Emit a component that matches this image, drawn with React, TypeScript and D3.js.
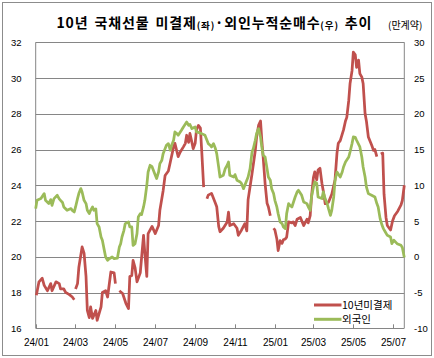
import React from "react";
import * as d3 from "d3";

const redDates = [
  "2024-01-02","2024-01-06","2024-01-11","2024-01-14","2024-01-19","2024-01-24","2024-01-26","2024-02-01","2024-02-06","2024-02-08",
  "2024-02-13","2024-02-16","2024-02-21","2024-02-26","2024-02-29","2024-03-01","2024-03-02","2024-03-05","2024-03-07","2024-03-12",
  "2024-03-15","2024-03-18","2024-03-20","2024-03-23","2024-03-25","2024-03-28","2024-04-02","2024-04-04","2024-04-10","2024-04-12",
  "2024-04-17","2024-04-20","2024-04-25","2024-04-30","2024-05-02","2024-05-04","2024-05-08","2024-05-13","2024-05-18","2024-05-22",
  "2024-05-24","2024-05-27","2024-05-29","2024-06-01","2024-06-04","2024-06-09","2024-06-14","2024-06-16","2024-06-19","2024-06-21",
  "2024-06-27","2024-07-02","2024-07-07","2024-07-09","2024-07-14","2024-07-17","2024-07-22","2024-07-25","2024-07-30","2024-08-01",
  "2024-08-06","2024-08-09","2024-08-14","2024-08-17","2024-08-19","2024-08-22","2024-08-24","2024-08-27","2024-08-29","2024-09-01",
  "2024-09-03","2024-09-06","2024-09-09","2024-09-11","2024-09-14","2024-09-16","2024-09-19","2024-09-21","2024-09-26","2024-10-02",
  "2024-10-04","2024-10-07","2024-10-09","2024-10-14","2024-10-20","2024-10-22","2024-10-24","2024-10-30","2024-11-04","2024-11-06",
  "2024-11-11","2024-11-16","2024-11-19","2024-11-21","2024-11-27","2024-12-02","2024-12-04","2024-12-07","2024-12-10","2024-12-12",
  "2024-12-14","2024-12-17","2024-12-20","2024-12-22","2024-12-25","2024-12-28","2024-12-30","2025-01-01","2025-01-04","2025-01-06",
  "2025-01-09","2025-01-12","2025-01-14","2025-01-17","2025-01-19","2025-01-22","2025-01-27","2025-01-29","2025-02-01","2025-02-04",
  "2025-02-09","2025-02-14","2025-02-19","2025-02-21","2025-02-24","2025-02-26","2025-03-01","2025-03-03","2025-03-06","2025-03-08",
  "2025-03-11","2025-03-14","2025-03-16","2025-03-19","2025-03-24","2025-03-29","2025-04-03","2025-04-06","2025-04-08","2025-04-11",
  "2025-04-16","2025-04-19","2025-04-21","2025-04-24","2025-04-26","2025-04-29","2025-05-01","2025-05-04","2025-05-06","2025-05-09",
  "2025-05-11","2025-05-14","2025-05-16","2025-05-19","2025-05-21","2025-05-24","2025-05-29","2025-06-01","2025-06-03","2025-06-06",
  "2025-06-08","2025-06-12","2025-06-15","2025-06-17","2025-06-20","2025-06-22","2025-06-25","2025-06-27","2025-06-30","2025-07-03",
  "2025-07-08","2025-07-13","2025-07-15","2025-07-18"
];
const redValues: (number | null)[] = [
  17.85,18.6,18.8,18.4,18.1,18.5,18.1,18.6,18.5,18.2,
  18.2,18.0,17.9,17.75,17.6,null,18.2,18.5,19.4,20.55,
  20.2,18.9,17.0,16.6,17.2,16.55,17.0,16.45,17.2,18.0,
  18.1,17.75,19.15,19.1,18.5,null,18.1,17.95,17.4,17.1,
  18.9,18.95,19.8,19.4,18.6,19.1,21.2,20.2,18.9,21.3,
  21.7,21.3,21.75,22.6,23.7,24.55,24.8,25.3,26.15,26.35,
  25.6,25.85,26.15,26.35,26.8,26.4,26.9,26.4,26.05,26.35,
  27.1,27.35,27.2,25.95,23.9,null,23.25,23.45,23.55,23.0,
  22.8,21.7,21.4,21.6,21.95,22.5,21.75,21.85,21.6,21.2,
  21.5,21.85,21.45,23.2,24.65,25.95,26.7,27.35,27.6,26.5,
  25.6,24.1,23.0,22.8,22.3,null,21.6,21.5,21.0,20.35,
  20.9,20.75,20.95,21.0,21.1,21.95,21.9,21.95,21.75,22.1,
  22.2,21.75,22.1,21.9,22.3,23.35,24.45,24.75,24.3,24.85,
  24.95,24.1,23.7,22.97,23.05,23.5,24.3,25.8,26.35,26.5,
  27.1,27.6,27.8,28.75,29.7,30.4,31.45,31.3,30.6,31.0,
  30.25,30.05,29.7,28.0,27.6,26.7,26.25,25.95,26.0,25.6,
  null,25.75,25.8,23.5,22.2,21.75,21.6,21.5,22.0,22.3,
  22.55,22.9,23.15,24.0
];

const greenDates = [
  "2024-01-01","2024-01-03","2024-01-09","2024-01-14","2024-01-16","2024-01-21","2024-01-24","2024-01-26","2024-01-29","2024-02-03",
  "2024-02-06","2024-02-08","2024-02-11","2024-02-13","2024-02-18","2024-02-24","2024-02-26","2024-02-29","2024-03-02","2024-03-05",
  "2024-03-07","2024-03-10","2024-03-12","2024-03-15","2024-03-18","2024-03-20","2024-03-23","2024-03-25","2024-03-28","2024-03-30",
  "2024-04-02","2024-04-04","2024-04-07","2024-04-10","2024-04-12","2024-04-15","2024-04-17","2024-04-20","2024-04-22","2024-04-27",
  "2024-04-30","2024-05-05","2024-05-08","2024-05-10","2024-05-12","2024-05-15","2024-05-17","2024-05-22","2024-05-24","2024-05-27",
  "2024-05-29","2024-06-01","2024-06-04","2024-06-06","2024-06-09","2024-06-11","2024-06-14","2024-06-16","2024-06-19","2024-06-21",
  "2024-06-24","2024-06-27","2024-07-02","2024-07-04","2024-07-07","2024-07-09","2024-07-12","2024-07-14","2024-07-19","2024-07-22",
  "2024-07-25","2024-07-27","2024-07-30","2024-08-01","2024-08-04","2024-08-06","2024-08-11","2024-08-14","2024-08-19","2024-08-22",
  "2024-08-24","2024-08-27","2024-09-01","2024-09-03","2024-09-06","2024-09-11","2024-09-16","2024-09-21","2024-09-24","2024-09-26",
  "2024-09-29","2024-10-02","2024-10-04","2024-10-07","2024-10-09","2024-10-14","2024-10-17","2024-10-20","2024-10-22","2024-10-24",
  "2024-10-30","2024-11-01","2024-11-04","2024-11-09","2024-11-11","2024-11-14","2024-11-16","2024-11-21","2024-11-24","2024-11-27",
  "2024-11-29","2024-12-02","2024-12-04","2024-12-07","2024-12-10","2024-12-12","2024-12-14","2024-12-17","2024-12-20","2024-12-22",
  "2024-12-25","2024-12-27","2024-12-30","2025-01-01","2025-01-04","2025-01-06","2025-01-09","2025-01-12","2025-01-14","2025-01-17",
  "2025-01-19","2025-01-22","2025-01-24","2025-01-27","2025-02-01","2025-02-04","2025-02-06","2025-02-11","2025-02-14","2025-02-19",
  "2025-02-21","2025-02-24","2025-02-26","2025-03-01","2025-03-03","2025-03-06","2025-03-08","2025-03-14","2025-03-16","2025-03-19",
  "2025-03-22","2025-03-24","2025-03-27","2025-03-29","2025-04-01","2025-04-03","2025-04-06","2025-04-11","2025-04-14","2025-04-16",
  "2025-04-19","2025-04-24","2025-04-26","2025-04-29","2025-05-01","2025-05-04","2025-05-06","2025-05-11","2025-05-14","2025-05-16",
  "2025-05-19","2025-05-21","2025-05-24","2025-05-29","2025-06-03","2025-06-06","2025-06-08","2025-06-11","2025-06-14","2025-06-16",
  "2025-06-19","2025-06-22","2025-06-27","2025-06-29","2025-07-02","2025-07-07","2025-07-13","2025-07-15","2025-07-18"
];
const greenValues = [
  6.74,7.9,8.14,8.84,7.9,7.44,8.0,7.2,8.14,8.6,
  8.1,7.9,7.6,6.97,6.5,6.74,6.5,6.27,6.97,8.14,
  8.84,9.54,9.07,7.9,7.44,6.5,6.04,6.5,6.97,6.5,
  6.7,4.64,4.17,2.77,2.31,0.9,-0.03,-0.49,-0.3,-0.03,
  -0.26,-0.2,1.37,1.84,2.77,3.7,4.64,4.87,4.17,4.17,
  1.6,1.84,3.24,5.57,6.04,5.9,6.97,7.9,10.0,11.86,
  12.8,12.6,11.4,10.94,11.86,13.03,13.5,14.43,15.6,15.83,
  14.9,15.6,16.3,17.46,17.23,17.0,17.7,18.16,18.85,18.4,
  18.5,17.93,18.16,17.46,17.4,17.23,17.0,15.83,15.6,15.36,
  15.83,15.13,14.43,12.5,11.16,11.4,12.33,12.8,13.26,11.4,
  11.16,11.5,10.7,10.46,10.23,9.53,10.0,11.16,12.33,14.66,
  15.13,16.3,17.23,17.93,16.76,15.36,14.2,13.96,12.33,11.16,
  10.7,9.53,8.84,7.9,6.97,6.04,4.87,4.64,4.17,3.94,
  6.04,7.44,7.2,6.97,8.37,9.07,9.3,8.6,7.67,7.44,
  7.0,6.5,8.37,9.77,10.46,10.3,8.37,8.14,9.07,8.1,
  7.44,6.74,5.8,6.5,8.37,10.7,11.86,11.16,11.86,12.56,
  13.26,13.96,14.66,15.83,16.76,16.7,16.3,15.36,13.96,12.56,
  11.16,9.77,8.84,8.6,8.37,7.44,6.97,5.34,4.4,3.94,
  3.47,3.0,2.77,1.84,2.31,1.84,1.6,1.3,-0.1
];

const leftTicks = [16, 18, 20, 22, 24, 26, 28, 30, 32];
const rightTicks = [-10, -5, 0, 5, 10, 15, 20, 25, 30];
const xTickMonths = ["2024-01","2024-03","2024-05","2024-07","2024-09","2024-11","2025-01","2025-03","2025-05","2025-07"];
const seriesNames = ["10년미결제", "외국인"];
const seriesColors = ["#C0504D", "#9BBB59"];
const dateStart = "2024-01-01";
const dateEnd = "2025-07-18";

export default function App() {
  const parse = d3.timeParse("%Y-%m-%d");
  const parseM = d3.timeParse("%Y-%m");
  const fmt = d3.timeFormat("%y/%m");

  const left = 35.7, right = 404.3, top = 42.3, bottom = 328.3;
  const x = d3.scaleTime().domain([parse(dateStart)!, parse(dateEnd)!]).range([left, right]);
  const yL = d3.scaleLinear().domain([16, 32]).range([bottom, top]);
  const yR = d3.scaleLinear().domain([-10, 30]).range([bottom, top]);

  const red = redDates.map((d, i) => ({ d: parse(d)!, v: redValues[i] }));
  const green = greenDates.map((d, i) => ({ d: parse(d)!, v: greenValues[i] as number | null }));

  const lineL = d3.line<{ d: Date; v: number | null }>()
    .defined((p) => p.v != null)
    .x((p) => x(p.d))
    .y((p) => yL(p.v as number));
  const lineR = d3.line<{ d: Date; v: number | null }>()
    .defined((p) => p.v != null)
    .x((p) => x(p.d))
    .y((p) => yR(p.v as number));

  const axisFont = "'Liberation Sans', Arial, sans-serif";
  const krFont = "'Noto Sans CJK KR', 'Noto Sans', sans-serif";

  return (
    <svg width={434} height={358} style={{ position: "absolute", left: 0, top: 0, background: "#fff" }}>
      <rect x={0} y={0} width={434} height={358} fill="#fff" />
      <rect x={2.5} y={2.5} width={429} height={353} fill="none" stroke="#8c8c8c" strokeWidth={1} />

      {/* title */}
      <text x={56.5} y={28} fontFamily={krFont} fill="#000" fontWeight="bold" fontSize={14} letterSpacing={0.85} wordSpacing={2}>
        <tspan>10년 국채선물 미결제</tspan>
        <tspan fontSize={9.5} dy={0.5}>(좌)</tspan>
        <tspan dy={-0.5}>·외인누적순매수</tspan>
        <tspan fontSize={9.5} dy={0.5}>(우)</tspan>
        <tspan dy={-0.5}> 추이</tspan>
      </text>
      <text x={388} y={28.5} fontSize={10} fontFamily={krFont} fill="#000">(만계약)</text>

      {/* gridlines */}
      {leftTicks.map((t) => (
        <line key={"g" + t} x1={left} x2={right} y1={Math.round(yL(t)) + 0.5} y2={Math.round(yL(t)) + 0.5} stroke="#868686" strokeWidth={1} />
      ))}
      <line x1={left} x2={left} y1={top} y2={bottom} stroke="#868686" />
      <line x1={right} x2={right} y1={top} y2={bottom} stroke="#868686" />

      {/* x ticks */}
      {xTickMonths.map((m) => {
        const xx = Math.round(x(parseM(m)!)) + 0.5;
        return (
          <g key={m}>
            <line x1={xx} x2={xx} y1={bottom - 4} y2={bottom} stroke="#868686" />
            <text x={xx} y={346} textAnchor="middle" fontSize={10} fontFamily={axisFont} fill="#000">{fmt(parseM(m)!)}</text>
          </g>
        );
      })}

      {/* left axis labels */}
      {leftTicks.map((t) => (
        <text key={"l" + t} x={21.5} y={yL(t) + 3.5} textAnchor="end" fontSize={9.5} fontFamily={axisFont} fill="#000">{t}</text>
      ))}
      {/* right axis labels */}
      {rightTicks.map((t) => (
        <text key={"r" + t} x={414} y={yR(t) + 3.5} textAnchor="start" fontSize={9.5} fontFamily={axisFont} fill="#000">{t}</text>
      ))}

      {/* series */}
      <path d={lineL(red) || ""} fill="none" stroke={seriesColors[0]} strokeWidth={2.75} strokeLinejoin="round" />
      <path d={lineR(green) || ""} fill="none" stroke={seriesColors[1]} strokeWidth={2.75} strokeLinejoin="round" />

      {/* legend */}
      {seriesNames.map((n, i) => (
        <g key={n}>
          <line x1={314} x2={341.5} y1={305 + i * 14.3} y2={305 + i * 14.3} stroke={seriesColors[i]} strokeWidth={3} />
          <text x={342} y={308.8 + i * 14.3} fontSize={10.5} fontFamily={krFont} fill="#000">{n}</text>
        </g>
      ))}
    </svg>
  );
}
